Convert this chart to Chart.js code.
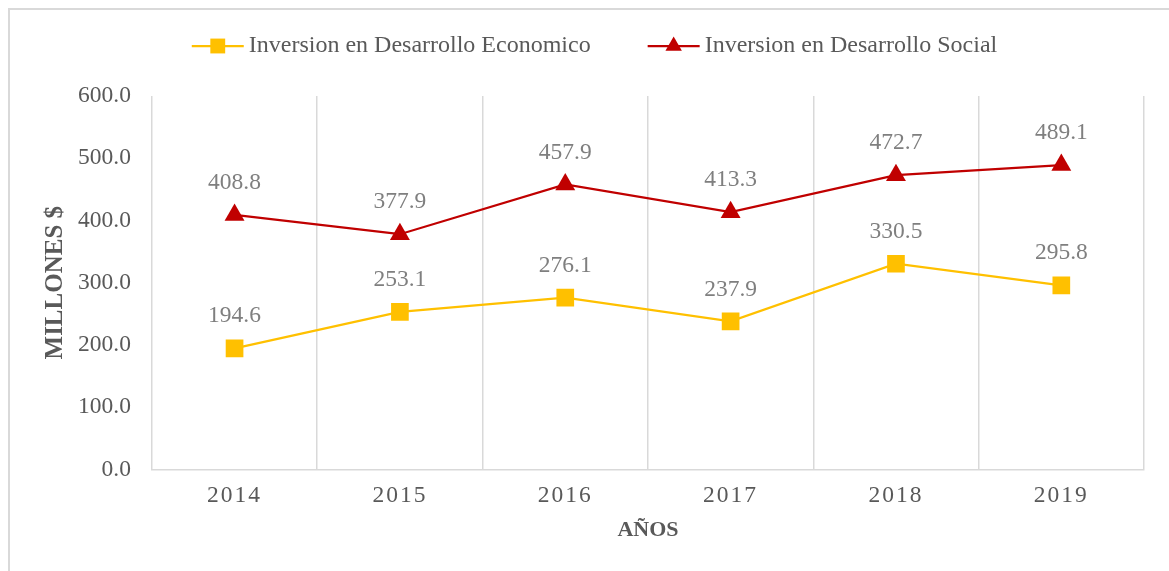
<!DOCTYPE html>
<html lang="es">

<head>
    <meta charset="UTF-8">
    <title>Inversion</title>
    <style>
        body {
            margin: 0;
            padding: 0;
            background-color: #ffffff;
            overflow: hidden;
        }

        /* marco gris del grafico */
        .marco {
            position: absolute;
            left: 8px;
            top: 8px;
            width: 1300px;
            height: 700px;
            border-left: 2px solid #d9d9d9;
            border-top: 2px solid #d9d9d9;
        }

        .contenedor {
            position: absolute;
            left: 0;
            top: 0;
            width: 1169px;
            height: 571px;
        }
    </style>
</head>

<body>

    <div class="marco"></div>
    <div class="contenedor">
        <canvas id="grafico"></canvas>
    </div>

    <script src="https://cdn.jsdelivr.net/npm/chart.js"></script>

    <script>
        // Datos
        const anios = ['2014', '2015', '2016', '2017', '2018', '2019'];
        const economico = [194.6, 253.1, 276.1, 237.9, 330.5, 295.8];
        const social = [408.8, 377.9, 457.9, 413.3, 472.7, 489.1];
        const nombres = ['Inversion en Desarrollo Economico', 'Inversion en Desarrollo Social'];

        const fuente = '"Liberation Serif", "Times New Roman", serif';
        const amarillo = '#ffc000';
        const rojo = '#c00000';

        // Dibuja el marcador (cuadrado o triangulo)
        function dibujarMarcador(ctx, estilo, x, y, r, color) {
            ctx.fillStyle = color;
            ctx.beginPath();
            if (estilo === 'rect') {
                const s = r * Math.SQRT1_2;
                ctx.rect(x - s, y - s, 2 * s, 2 * s);
            } else {
                ctx.moveTo(x, y - r);
                ctx.lineTo(x + r * Math.sin(2 * Math.PI / 3), y + r / 2);
                ctx.lineTo(x - r * Math.sin(2 * Math.PI / 3), y + r / 2);
                ctx.closePath();
            }
            ctx.fill();
        }

        // Leyenda con linea + marcador
        const leyenda = {
            id: 'leyenda',
            afterDraw(chart) {
                const ctx = chart.ctx;
                ctx.save();
                ctx.font = '24px ' + fuente;
                ctx.textBaseline = 'middle';
                const largo = 52, separacion = 5, hueco = 57;
                const anchos = nombres.map(n => largo + separacion + ctx.measureText(n).width);
                const total = anchos[0] + anchos[1] + hueco;
                let x = chart.width / 2 + 10 - total / 2;
                const y = 46;
                chart.data.datasets.forEach((ds, i) => {
                    ctx.strokeStyle = ds.borderColor;
                    ctx.lineWidth = 2.25;
                    ctx.beginPath();
                    ctx.moveTo(x, y);
                    ctx.lineTo(x + largo, y);
                    ctx.stroke();
                    dibujarMarcador(ctx, ds.pointStyle, x + largo / 2, y, ds.pointStyle === 'rect' ? 10.5 : 9.5, ds.borderColor);
                    ctx.fillStyle = '#595959';
                    ctx.fillText(nombres[i], x + largo + separacion, y);
                    x += anchos[i] + hueco;
                });
                ctx.restore();
            }
        };

        // Etiquetas de valores sobre los puntos
        const etiquetas = {
            id: 'etiquetas',
            afterDatasetsDraw(chart) {
                const ctx = chart.ctx;
                ctx.save();
                ctx.font = '23.5px ' + fuente;
                ctx.fillStyle = '#7f7f7f';
                ctx.textAlign = 'center';
                ctx.textBaseline = 'middle';
                chart.data.datasets.forEach((ds, i) => {
                    chart.getDatasetMeta(i).data.forEach((pt, j) => {
                        ctx.fillText(ds.data[j].toFixed(1), pt.x, pt.y - 32);
                    });
                });
                ctx.restore();
            }
        };

        // Espaciado entre letras en los años del eje x
        const espaciado = {
            id: 'espaciado',
            afterLayout(chart) {
                const esc = chart.scales.x;
                if (esc._espaciado) return;
                esc._espaciado = true;
                const original = esc.drawLabels;
                esc.drawLabels = function (area) {
                    this.ctx.save();
                    this.ctx.letterSpacing = '2px';
                    original.call(this, area);
                    this.ctx.restore();
                };
            }
        };

        const ctx = document.getElementById('grafico').getContext('2d');
        new Chart(ctx, {
            type: 'line',
            data: {
                labels: anios,
                datasets: [{
                    label: nombres[0],
                    data: economico,
                    borderColor: amarillo,
                    backgroundColor: amarillo,
                    borderWidth: 2.25,
                    pointStyle: 'rect',
                    pointRadius: 12.5,
                    pointBorderWidth: 0,
                    tension: 0
                }, {
                    label: nombres[1],
                    data: social,
                    borderColor: rojo,
                    backgroundColor: rojo,
                    borderWidth: 2.25,
                    pointStyle: 'triangle',
                    pointRadius: 11.5,
                    pointBorderWidth: 0,
                    tension: 0
                }]
            },
            options: {
                responsive: true,
                maintainAspectRatio: false,
                animation: false,
                layout: {
                    padding: { left: 30, right: 25, top: 96, bottom: 25 }
                },
                plugins: {
                    legend: { display: false },
                    tooltip: { enabled: false }
                },
                scales: {
                    x: {
                        offset: true,
                        grid: { offset: true, color: '#d9d9d9', lineWidth: 1.5, drawTicks: false },
                        border: { color: '#d9d9d9', width: 1.5 },
                        ticks: { color: '#595959', font: { family: fuente, size: 23.5 }, padding: 12 },
                        title: {
                            display: true,
                            text: 'AÑOS',
                            color: '#595959',
                            font: { family: fuente, size: 22, weight: 'bold' },
                            padding: { top: -4, bottom: 2 }
                        }
                    },
                    y: {
                        min: 0,
                        max: 600,
                        grid: { display: false, drawTicks: false },
                        border: { display: false },
                        ticks: {
                            stepSize: 100,
                            color: '#595959',
                            font: { family: fuente, size: 23.5 },
                            padding: 21,
                            callback: v => v.toFixed(1)
                        },
                        title: {
                            display: true,
                            text: 'MILLONES $',
                            color: '#595959',
                            font: { family: fuente, size: 25, weight: 'bold' },
                            padding: { top: 11, bottom: -14 }
                        }
                    }
                }
            },
            plugins: [leyenda, etiquetas, espaciado]
        });
    </script>

</body>

</html>
